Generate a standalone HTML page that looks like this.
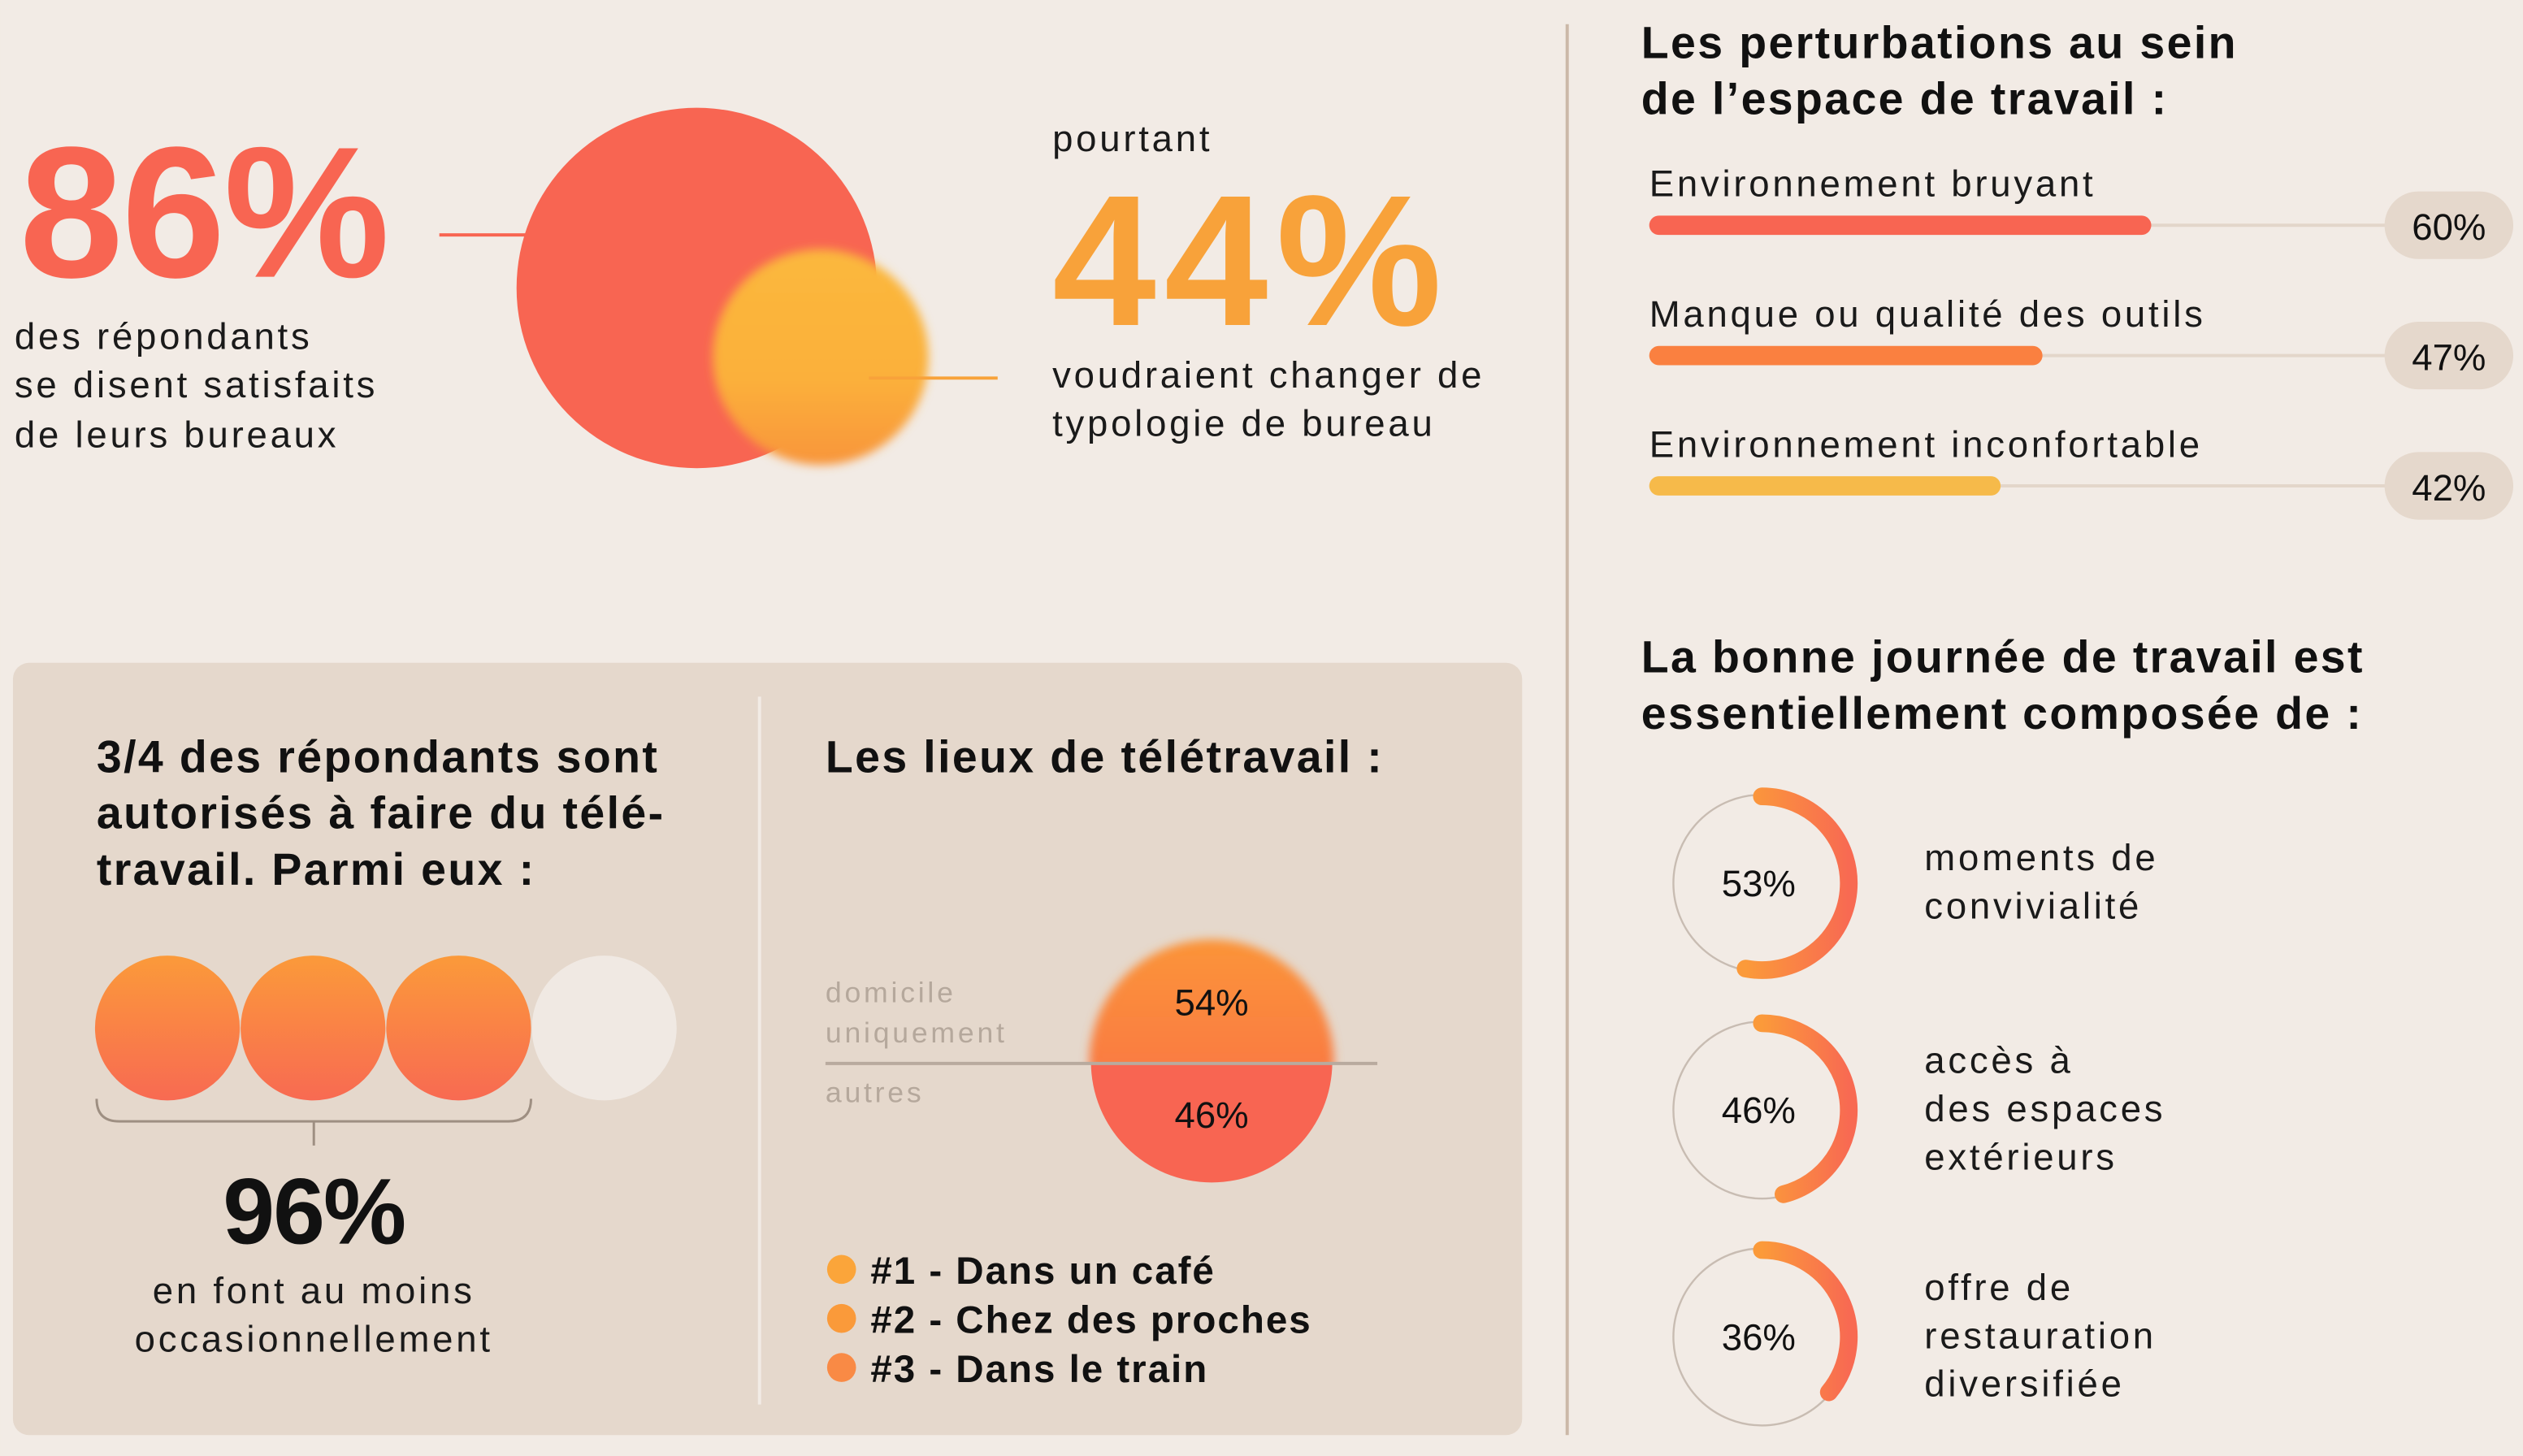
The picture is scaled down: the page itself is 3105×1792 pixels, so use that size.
<!DOCTYPE html>
<html><head><meta charset="utf-8"><style>
html,body{margin:0;padding:0;background:#f2ebe5;}
svg{display:block;font-family:"Liberation Sans",sans-serif;}
.b{letter-spacing:1.9px;}
.t{letter-spacing:1.2px;}
.s{letter-spacing:1px;}
</style></head><body>
<svg id="chart" width="3105" height="1792" viewBox="0 0 1568 905" xmlns="http://www.w3.org/2000/svg">
<defs>
<filter id="blur" x="-20%" y="-20%" width="140%" height="140%"><feGaussianBlur stdDeviation="3"/></filter>
<linearGradient id="yg" x1="0" y1="0" x2="0" y2="1"><stop offset="0" stop-color="#fbb83c"/><stop offset="0.6" stop-color="#fbb03a"/><stop offset="1" stop-color="#f8953a"/></linearGradient>
<linearGradient id="cg" x1="0" y1="0" x2="0" y2="1"><stop offset="0" stop-color="#fb9a3a"/><stop offset="1" stop-color="#f86a52"/></linearGradient>
<linearGradient id="hg" x1="0" y1="0" x2="0" y2="1"><stop offset="0" stop-color="#fb9438"/><stop offset="1" stop-color="#f8654c"/></linearGradient>
<linearGradient id="ag" x1="0" y1="0" x2="1" y2="0"><stop offset="0" stop-color="#fb9a3a"/><stop offset="1" stop-color="#f86a52"/></linearGradient>
<clipPath id="topHalf"><rect x="660" y="560" width="200" height="101"/></clipPath>
<clipPath id="botHalf"><rect x="660" y="661" width="200" height="100"/></clipPath>
</defs>
<rect width="1568" height="905" fill="#f2ebe5"/>

<text x="12" y="172" font-size="116" font-weight="700" fill="#f86552" letter-spacing="-1">86%</text>
<text class="b" font-size="23" fill="#1a1a1a"><tspan x="9" y="217">des répondants</tspan><tspan x="9" y="247">se disent satisfaits</tspan><tspan x="9" y="278">de leurs bureaux</tspan></text>
<line x1="273" y1="146" x2="330" y2="146" stroke="#f86552" stroke-width="2"/>
<circle cx="433" cy="179" r="112" fill="#f86552"/>
<circle cx="510" cy="222" r="67" fill="url(#yg)" filter="url(#blur)"/>
<line x1="540" y1="235" x2="620" y2="235" stroke="#f8a23a" stroke-width="2"/>
<text class="b" x="654" y="94" font-size="23" fill="#1a1a1a">pourtant</text>
<text x="654" y="202" font-size="116" font-weight="700" fill="#f8a23a" letter-spacing="5">44%</text>
<text class="b" font-size="23" fill="#1a1a1a"><tspan x="654" y="241">voudraient changer de</tspan><tspan x="654" y="271">typologie de bureau</tspan></text>

<line x1="974" y1="15" x2="974" y2="892" stroke="#cbb8a8" stroke-width="2"/>

<rect x="8" y="412" width="938" height="480" rx="10" fill="#e5d8cc"/>
<line x1="472" y1="433" x2="472" y2="873" stroke="#f2ebe5" stroke-width="2"/>
<text class="t" font-size="28" font-weight="600" fill="#111"><tspan x="60" y="480">3/4 des répondants sont</tspan><tspan x="60" y="515">autorisés à faire du télé-</tspan><tspan x="60" y="550">travail. Parmi eux :</tspan></text>
<g id="quarters"></g>
<path d="M60 683 Q60 697 74 697 L316 697 Q330 697 330 683 M195 697 L195 712" fill="none" stroke="#9e8f82" stroke-width="1.5"/>
<text x="195" y="773" font-size="58" font-weight="700" fill="#111" text-anchor="middle" letter-spacing="-1">96%</text>
<text class="b" font-size="23" fill="#1a1a1a" text-anchor="middle"><tspan x="195" y="810">en font au moins</tspan><tspan x="195" y="840">occasionnellement</tspan></text>

<text class="t" x="513" y="480" font-size="28" font-weight="600" fill="#111">Les lieux de télétravail :</text>
<g id="halves"></g>
<line x1="513" y1="661" x2="856" y2="661" stroke="#b8aa9e" stroke-width="2"/>
<text class="b" font-size="18" fill="#b5a89c"><tspan x="513" y="623">domicile</tspan><tspan x="513" y="648">uniquement</tspan></text>
<text class="b" x="513" y="685" font-size="18" fill="#b5a89c">autres</text>
<g id="legend"></g>

<text class="t" font-size="28" font-weight="600" fill="#111"><tspan x="1020" y="36">Les perturbations au sein</tspan><tspan x="1020" y="71">de l’espace de travail :</tspan></text>
<g id="bars"></g>
<text class="t" font-size="28" font-weight="600" fill="#111"><tspan x="1020" y="418">La bonne journée de travail est</tspan><tspan x="1020" y="453">essentiellement composée de :</tspan></text>
<g id="donuts"></g>
</svg>
<script>
const NS='http://www.w3.org/2000/svg';
const barLabels=['Environnement bruyant','Manque ou qualité des outils','Environnement inconfortable'];
const barValues=[60,47,42];
const barColors=['#f86552','#fa8040','#f6ba4a'];
const donutLabels=[['moments de','convivialité'],['accès à','des espaces','extérieurs'],['offre de','restauration','diversifiée']];
const donutValues=[53,46,36];
const splitValues=[54,46];
const legendItems=['#1 - Dans un café','#2 - Chez des proches','#3 - Dans le train'];
const legendColors=['#fba53a','#fa9a3a','#f98a45'];
const quarterCount=4, quarterFilled=3;

function mk(tag,attrs,parent,txt){const e=document.createElementNS(NS,tag);for(const k in attrs)e.setAttribute(k,attrs[k]);if(txt!==undefined)e.textContent=txt;parent.appendChild(e);return e;}

const bx=1025, bw=520;
const xs=v=>bx+v/100*bw;
const gb=document.getElementById('bars');
barValues.forEach((v,i)=>{
  const y=140+i*81;
  let t=mk('text',{x:1025,y:y-18,'font-size':23,fill:'#1a1a1a','class':'b'},gb,barLabels[i]);
  
  
  let tr=mk('line',{x1:bx,y1:y,x2:1485,y2:y,stroke:'#e3d6ca','stroke-width':2},gb);
  
  
  let r=mk('rect',{x:bx,y:y-6,width:xs(v)-bx,height:12,rx:6,fill:barColors[i]},gb);
  
  
  let p=mk('rect',{x:1482,y:y-21,width:80,height:42,rx:21,fill:'#e5d8cc'},gb);
  
  
  let pt=mk('text',{x:1522,y:y+9,'font-size':23,'font-weight':500,fill:'#111','text-anchor':'middle'},gb,v+'%');
  
  
});

const gd=document.getElementById('donuts');
donutValues.forEach((v,i)=>{
  const cx=1095, cy=549+i*141, rr=54;
  let c=mk('circle',{cx:cx,cy:cy,r:55,fill:'none',stroke:'#c8bcb2','stroke-width':1.2},gd);
  
  
  const a=v/100*2*Math.PI;
  const x1=cx, y1=cy-rr, x2=cx+rr*Math.sin(a), y2=cy-rr*Math.cos(a);
  let p=mk('path',{d:`M${x1} ${y1} A${rr} ${rr} 0 ${a>Math.PI?1:0} 1 ${x2} ${y2}`,fill:'none',stroke:'url(#ag)','stroke-width':11,'stroke-linecap':'round'},gd);
  
  
  let t=mk('text',{x:cx-2,y:cy+8,'font-size':23,'font-weight':500,fill:'#111','text-anchor':'middle'},gd,v+'%');
  
  
  const lines=donutLabels[i];
  lines.forEach((l,j)=>{
    let lt=mk('text',{x:1196,y:(lines.length===2?cy-8:cy-23)+j*30,'font-size':23,fill:'#1a1a1a','class':'b'},gd,l);
    
    
  });
});

const gq=document.getElementById('quarters');
for(let i=0;i<quarterCount;i++){
  let c=mk('circle',{cx:104+i*90.5,cy:639,r:45,fill:i<quarterFilled?'url(#cg)':'#f0e9e3'},gq);
  
  
}

const gh=document.getElementById('halves');
let halfTopEl=mk('circle',{cx:753,cy:660,r:76,fill:'url(#hg)',filter:'url(#blur)','clip-path':'url(#topHalf)'},gh);


let halfBotEl=mk('circle',{cx:753,cy:660,r:75,fill:'#f86552','clip-path':'url(#botHalf)'},gh);


splitValues.forEach((v,i)=>{
  let t=mk('text',{x:753,y:i===0?631:701,'font-size':23,'font-weight':500,fill:'#111','text-anchor':'middle'},gh,v+'%');
  
  
});

const gl=document.getElementById('legend');
legendItems.forEach((s,i)=>{
  const y=789+i*30.5;
  let c=mk('circle',{cx:523,cy:y,r:9,fill:legendColors[i]},gl);
  
  
  let t=mk('text',{x:541,y:y+9,'font-size':24,'font-weight':600,fill:'#111','class':'s'},gl,s);
  
  
});
</script>
</body></html>
